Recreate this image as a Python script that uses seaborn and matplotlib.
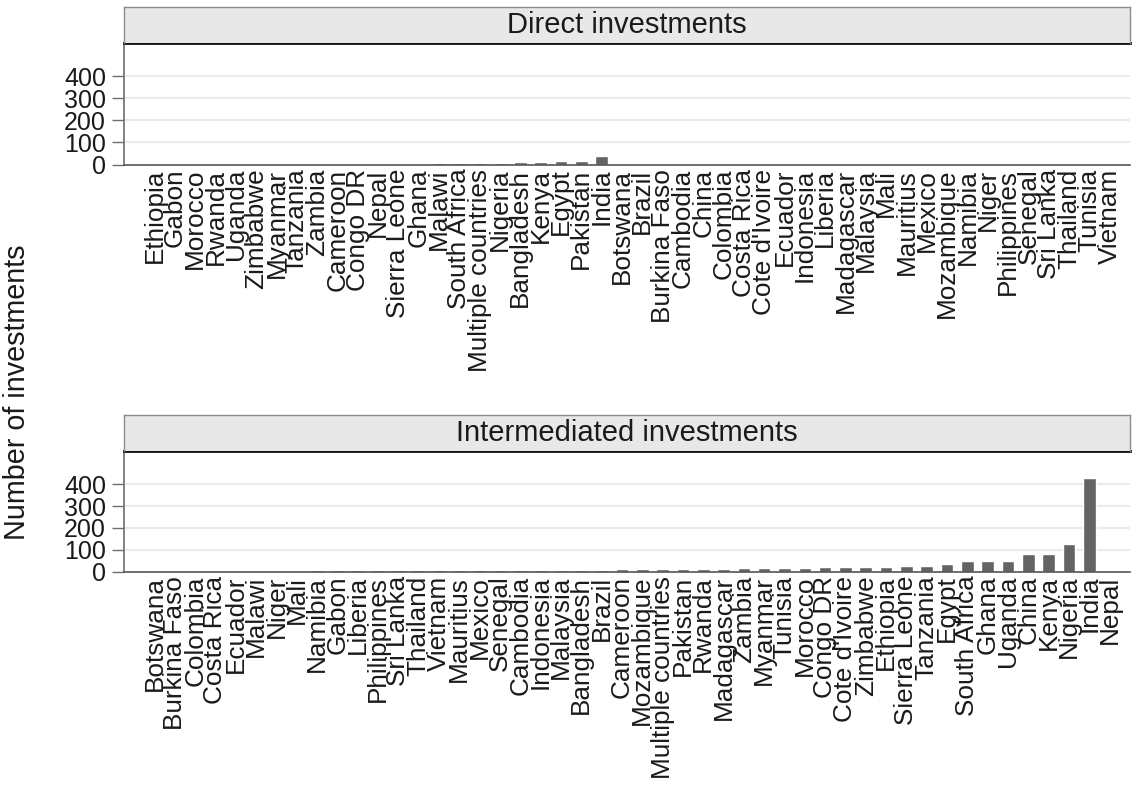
import matplotlib
matplotlib.use("Agg")
import matplotlib.pyplot as plt
import seaborn as sns
import pandas as pd

# Direct investments by country (panel order as drawn)
direct_countries = [
    "Ethiopia", "Gabon", "Morocco", "Rwanda", "Uganda", "Zimbabwe", "Myanmar",
    "Tanzania", "Zambia", "Cameroon", "Congo DR", "Nepal", "Sierra Leone", "Ghana",
    "Malawi", "South Africa", "Multiple countries", "Nigeria", "Bangladesh", "Kenya",
    "Egypt", "Pakistan", "India", "Botswana", "Brazil", "Burkina Faso", "Cambodia",
    "China", "Colombia", "Costa Rica", "Cote d'Ivoire", "Ecuador", "Indonesia",
    "Liberia", "Madagascar", "Malaysia", "Mali", "Mauritius", "Mexico", "Mozambique",
    "Namibia", "Niger", "Philippines", "Senegal", "Sri Lanka", "Thailand", "Tunisia",
    "Vietnam",
]
direct_counts = [
    4, 4, 4, 4, 4, 4, 4,
    4, 4, 4, 4, 4, 4, 4,
    5, 5, 9, 9, 10, 10,
    17, 18, 40, 0, 0, 0, 0,
    0, 0, 0, 0, 0, 0,
    0, 0, 0, 0, 0, 0, 0,
    0, 0, 0, 0, 0, 0, 0,
    0,
]

# Intermediated investments by country (panel order as drawn)
inter_countries = [
    "Botswana", "Burkina Faso", "Colombia", "Costa Rica", "Ecuador", "Malawi",
    "Niger", "Mali", "Namibia", "Gabon", "Liberia", "Philippines", "Sri Lanka",
    "Thailand", "Vietnam", "Mauritius", "Mexico", "Senegal", "Cambodia", "Indonesia",
    "Malaysia", "Bangladesh", "Brazil", "Cameroon", "Mozambique", "Multiple countries",
    "Pakistan", "Rwanda", "Madagascar", "Zambia", "Myanmar", "Tunisia", "Morocco",
    "Congo DR", "Cote d'Ivoire", "Zimbabwe", "Ethiopia", "Sierra Leone", "Tanzania",
    "Egypt", "South Africa", "Ghana", "Uganda", "China", "Kenya", "Nigeria", "India",
    "Nepal",
]
inter_counts = [
    4, 4, 4, 4, 4, 4,
    4, 4, 5, 5, 5, 5, 5,
    5, 5, 6, 6, 6, 6, 6,
    6, 7, 8, 10, 13, 13,
    13, 13, 13, 14, 14, 14, 18,
    22, 22, 22, 22, 26, 27,
    35, 50, 50, 50, 80, 80, 125, 430,
    0,
]

panel_titles = ["Direct investments", "Intermediated investments"]
y_ticks = [0, 100, 200, 300, 400]

sns.set_theme(style="white")
plt.rcParams["font.family"] = ["Liberation Sans", "DejaVu Sans"]

W, H = 1137, 787
fig = plt.figure(figsize=(W / 100, H / 100), dpi=100)
fig.patch.set_facecolor("white")

bar_color = "#646464"
text_color = "#1a1a1a"


def fx(px):
    return px / W


def fy(py):
    return 1 - py / H


panels = [
    (direct_countries, direct_counts, panel_titles[0], 6.7, 42.7, 164.5),
    (inter_countries, inter_counts, panel_titles[1], 415.0, 451.0, 571.5),
]

x0, x1 = 124, 1130
for countries, counts, title, strip_top, plot_top, plot_bot in panels:
    df = pd.DataFrame({"country": countries, "count": counts})
    ax = fig.add_axes([fx(x0), fy(plot_bot), fx(x1 - x0), fy(plot_top) - fy(plot_bot)])
    ax.set_axisbelow(True)
    for t in y_ticks[1:]:
        ax.axhline(t, color="#ebebeb", lw=1.6, zorder=0)
    sns.barplot(data=df, x="country", y="count", order=countries, color=bar_color,
                saturation=1, width=0.62, ax=ax, errorbar=None, zorder=2)
    ax.set_xlim(-1.5, len(countries))
    ax.set_ylim(0, 552)
    ax.set_yticks(y_ticks)
    ax.set_yticklabels([str(t) for t in y_ticks], fontsize=18, color=text_color)
    ax.set_xticks(range(len(countries)))
    ax.set_xticklabels(countries, rotation=90, fontsize=18.8, color=text_color,
                       va="top", ha="center")
    ax.tick_params(axis="y", length=9, width=1, color="#6e6e6e", pad=4, left=True)
    ax.tick_params(axis="x", length=0, pad=3)
    ax.set_xlabel("")
    ax.set_ylabel("")
    ax.grid(False)
    ax.spines["right"].set_visible(False)
    ax.spines["left"].set_color("#6e6e6e")
    ax.spines["left"].set_linewidth(1.2)
    ax.spines["bottom"].set_color("#555555")
    ax.spines["bottom"].set_linewidth(1.2)
    ax.spines["top"].set_color("#111111")
    ax.spines["top"].set_linewidth(2)

    # facet strip
    sax = fig.add_axes([fx(x0), fy(plot_top), fx(x1 - x0), fy(strip_top) - fy(plot_top)])
    sax.set_facecolor("#e8e8e8")
    sax.set_xticks([])
    sax.set_yticks([])
    for side in ["left", "top", "right"]:
        sax.spines[side].set_color("#8c8c8c")
        sax.spines[side].set_linewidth(1)
    sax.spines["bottom"].set_visible(False)
    sax.text(0.5, 0.5, title, transform=sax.transAxes, ha="center", va="center",
             fontsize=21, color=text_color)

fig.text(fx(17), fy(392), "Number of investments", rotation=90, ha="center",
         va="center", fontsize=20.7, color=text_color)

fig.savefig("out.png", dpi=100, facecolor="white")
